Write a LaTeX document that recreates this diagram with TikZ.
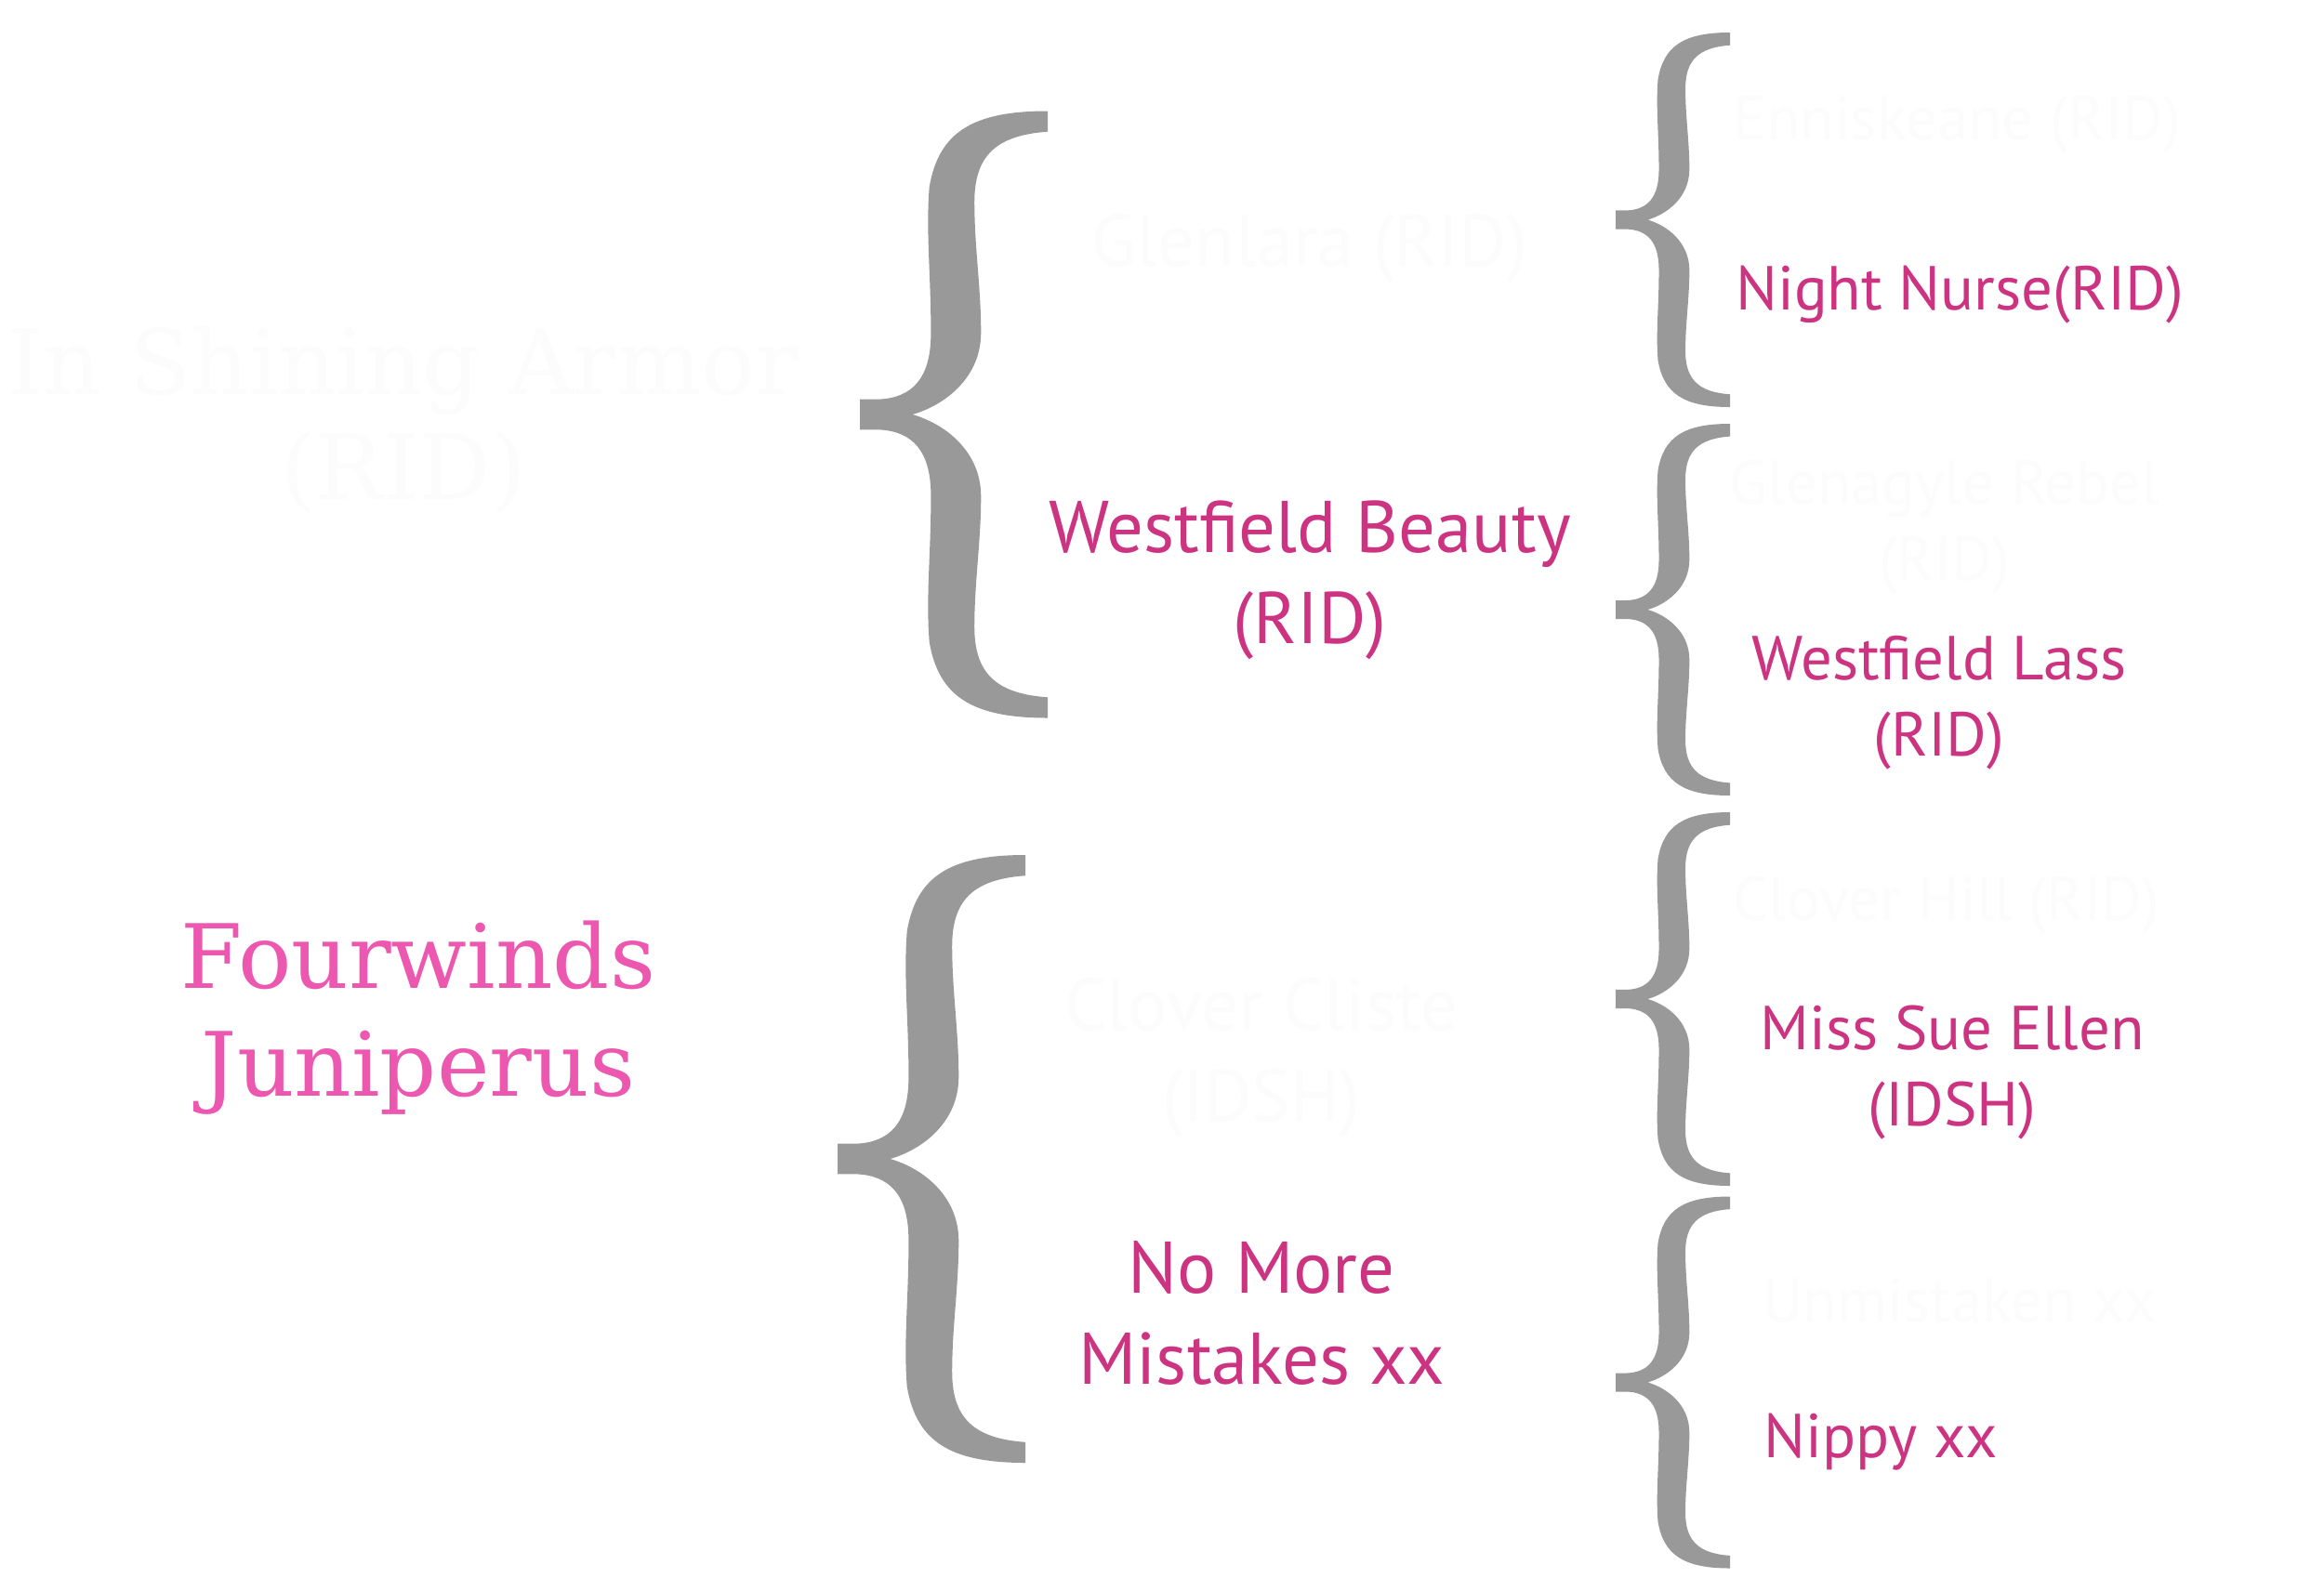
\documentclass[tikz,border=0pt]{standalone}
\usepackage{fontspec}
\setmainfont{PT Sans}
\newfontfamily\slabfont{DejaVu Serif}
\usepackage{tikz}
\usetikzlibrary{positioning}

\definecolor{pinkdark}{HTML}{CC3381}
\definecolor{pinklight}{HTML}{EC58B0}
\definecolor{bracegray}{HTML}{999999}
\definecolor{ghost}{HTML}{FCFCFC}

% 中括弧の形
\tikzset{
  bracket/.pic={
    \fill[bracegray] (0,0.05) -- (0.1,0.05)
      .. controls (0.28,0.055) and (0.375,0.12) .. (0.378,0.26)
      .. controls (0.38,0.45) and (0.35,0.6) .. (0.37,0.75)
      .. controls (0.42,0.93) and (0.6,1) .. (1,1) -- (1,0.932)
      .. controls (0.72,0.92) and (0.61,0.85) .. (0.61,0.7)
      .. controls (0.61,0.55) and (0.645,0.42) .. (0.645,0.27)
      .. controls (0.645,0.12) and (0.45,0.03) .. (0.28,0)
      .. controls (0.45,-0.03) and (0.645,-0.12) .. (0.645,-0.27)
      .. controls (0.645,-0.42) and (0.61,-0.55) .. (0.61,-0.7)
      .. controls (0.61,-0.85) and (0.72,-0.92) .. (1,-0.932) -- (1,-1)
      .. controls (0.6,-1) and (0.42,-0.93) .. (0.37,-0.75)
      .. controls (0.35,-0.6) and (0.38,-0.45) .. (0.378,-0.26)
      .. controls (0.375,-0.12) and (0.28,-0.055) .. (0.1,-0.05)
      -- (0,-0.05) -- cycle;
  }
}

\begin{document}
\begin{tikzpicture}[
  sire/.style={align=center, font=\slabfont\fontsize{27.5}{32}\selectfont},
  mid/.style={align=center, font=\fontsize{22.4}{27.8}\selectfont},
  far/.style={align=center, font=\fontsize{19}{23.3}\selectfont},
  blank/.style={text=ghost},
  pink/.style={text=pinkdark}
]
  \fill[white] (0,0) rectangle (25,-16.97);
  \useasboundingbox (0,0) rectangle (25,-16.97);

  % 左の列
  \node[sire, blank] (shining) at (4.34,-4.52) {In Shining Armor\\(RID)};
  \node[sire, text=pinklight, font=\slabfont\fontsize{27.2}{33}\selectfont] (fourwinds) at (4.50,-10.95) {Fourwinds\\Juniperus};

  % 大きい括弧
  \pic[xscale=2.02, yscale=3.265] at (9.25,-4.46) {bracket};
  \pic[xscale=2.02, yscale=3.27] at (9.01,-12.47) {bracket};

  % 中の列
  \node[mid, blank] (glenlara) at (14.09,-2.67) {Glenlara (RID)};
  \node[mid, pink] (wbeauty) at (14.09,-6.24) {Westfield Beauty\\(RID)};
  \node[mid, blank] (cliste) at (13.57,-11.38) {Clover Cliste\\(IDSH)};
  \node[mid, pink] (nomore) at (13.57,-14.13) {No More\\Mistakes xx};

  % 小さい括弧
  \foreach \yc/\hh in {-2.365/2.015, -6.56/2.0, -10.75/2.01, -14.875/2.0} {
    \pic[xscale=1.23, yscale=\hh] at (17.38,\yc) {bracket};
  }

  % 右の列
  \node[far, blank] (enniskeane) at (21.05,-1.34) {Enniskeane (RID)};
  \node[far, pink] (nightnurse) at (21.08,-3.17) {Night Nurse(RID)};
  \node[far, blank] (glenagyle) at (20.92,-5.67) {Glenagyle Rebel\\(RID)};
  \node[far, pink] (wlass) at (20.86,-7.56) {Westfield Lass\\(RID)};
  \node[far, blank] (cloverhill) at (20.94,-9.74) {Clover Hill (RID)};
  \node[far, pink] (sueellen) at (21.00,-11.54) {Miss Sue Ellen\\(IDSH)};
  \node[far, blank] (unmistaken) at (21.08,-13.99) {Unmistaken xx};
  \node[far, pink] (nippy) at (20.23,-15.52) {Nippy xx};
\end{tikzpicture}
\end{document}
